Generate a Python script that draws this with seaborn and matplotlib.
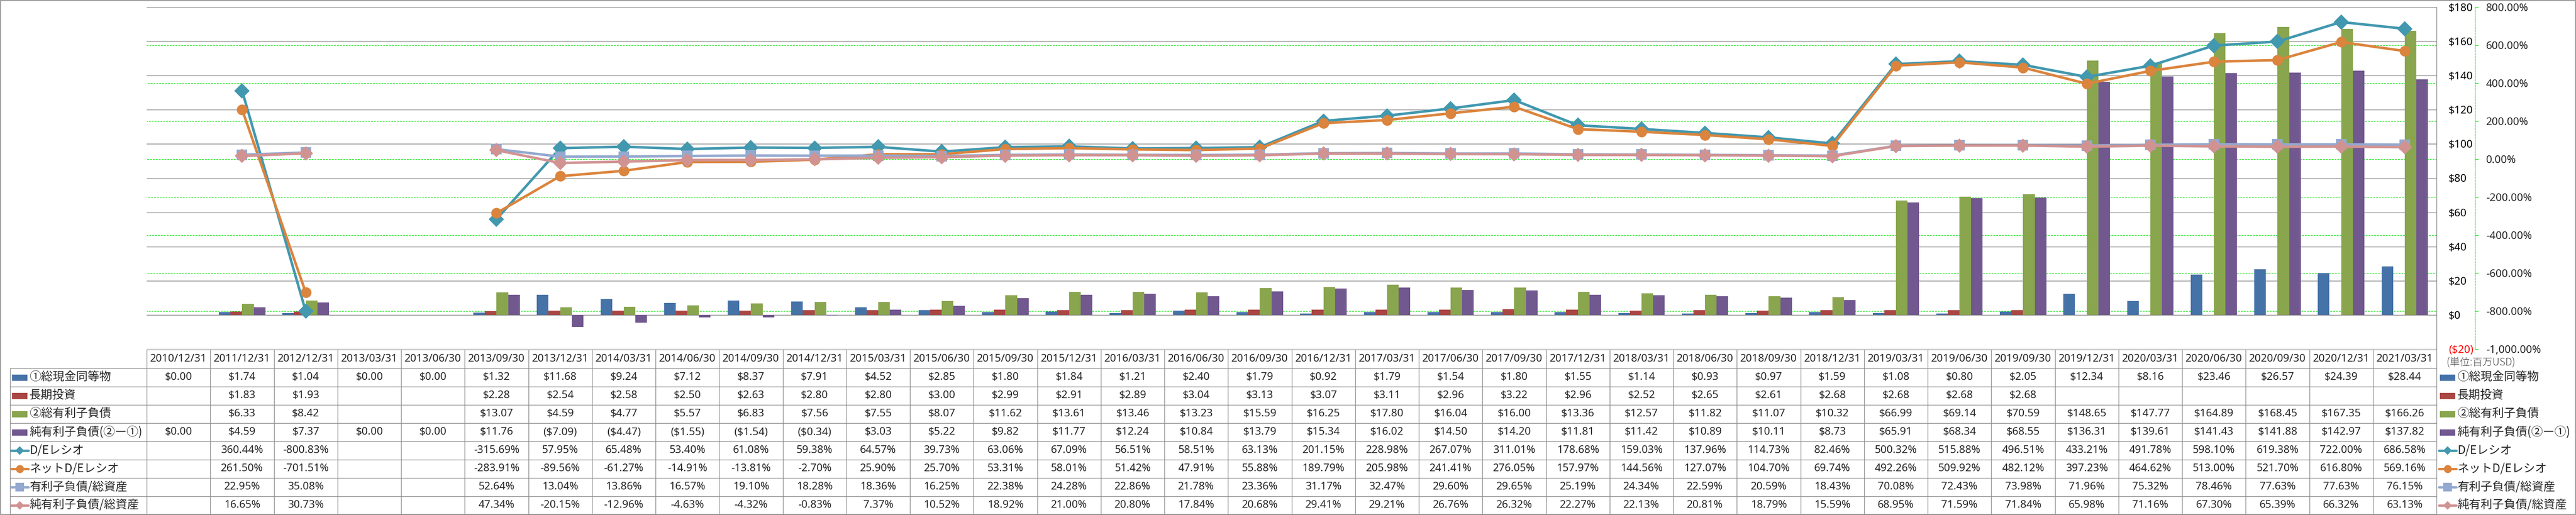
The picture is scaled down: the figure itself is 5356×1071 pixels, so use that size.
import numpy as np
import pandas as pd
import matplotlib
matplotlib.use("Agg")
import matplotlib.pyplot as plt
import seaborn as sns
from matplotlib.patches import Rectangle
from matplotlib.lines import Line2D
from matplotlib.ticker import FixedLocator, NullLocator

# ---------------- data ----------------
dates = ["2010/12/31", "2011/12/31", "2012/12/31", "2013/03/31", "2013/06/30", "2013/09/30",
         "2013/12/31", "2014/03/31", "2014/06/30", "2014/09/30", "2014/12/31", "2015/03/31",
         "2015/06/30", "2015/09/30", "2015/12/31", "2016/03/31", "2016/06/30", "2016/09/30",
         "2016/12/31", "2017/03/31", "2017/06/30", "2017/09/30", "2017/12/31", "2018/03/31",
         "2018/06/30", "2018/09/30", "2018/12/31", "2019/03/31", "2019/06/30", "2019/09/30",
         "2019/12/31", "2020/03/31", "2020/06/30", "2020/09/30", "2020/12/31", "2021/03/31"]

cash = [0.00, 1.74, 1.04, 0.00, 0.00, 1.32, 11.68, 9.24, 7.12, 8.37, 7.91, 4.52, 2.85, 1.80,
        1.84, 1.21, 2.40, 1.79, 0.92, 1.79, 1.54, 1.80, 1.55, 1.14, 0.93, 0.97, 1.59, 1.08,
        0.80, 2.05, 12.34, 8.16, 23.46, 26.57, 24.39, 28.44]
lt_invest = [None, 1.83, 1.93, None, None, 2.28, 2.54, 2.58, 2.50, 2.63, 2.80, 2.80, 3.00, 2.99,
             2.91, 2.89, 3.04, 3.13, 3.07, 3.11, 2.96, 3.22, 2.96, 2.52, 2.65, 2.61, 2.68, 2.68,
             2.68, 2.68, None, None, None, None, None, None]
debt = [None, 6.33, 8.42, None, None, 13.07, 4.59, 4.77, 5.57, 6.83, 7.56, 7.55, 8.07, 11.62,
        13.61, 13.46, 13.23, 15.59, 16.25, 17.80, 16.04, 16.00, 13.36, 12.57, 11.82, 11.07,
        10.32, 66.99, 69.14, 70.59, 148.65, 147.77, 164.89, 168.45, 167.35, 166.26]
net_debt = [0.00, 4.59, 7.37, 0.00, 0.00, 11.76, -7.09, -4.47, -1.55, -1.54, -0.34, 3.03, 5.22,
            9.82, 11.77, 12.24, 10.84, 13.79, 15.34, 16.02, 14.50, 14.20, 11.81, 11.42, 10.89,
            10.11, 8.73, 65.91, 68.34, 68.55, 136.31, 139.61, 141.43, 141.88, 142.97, 137.82]
de_ratio = [None, 360.44, -800.83, None, None, -315.69, 57.95, 65.48, 53.40, 61.08, 59.38,
            64.57, 39.73, 63.06, 67.09, 56.51, 58.51, 63.13, 201.15, 228.98, 267.07, 311.01,
            178.68, 159.03, 137.96, 114.73, 82.46, 500.32, 515.88, 496.51, 433.21, 491.78,
            598.10, 619.38, 722.00, 686.58]
net_de_ratio = [None, 261.50, -701.51, None, None, -283.91, -89.56, -61.27, -14.91, -13.81,
                -2.70, 25.90, 25.70, 53.31, 58.01, 51.42, 47.91, 55.88, 189.79, 205.98, 241.41,
                276.05, 157.97, 144.56, 127.07, 104.70, 69.74, 492.26, 509.92, 482.12, 397.23,
                464.62, 513.00, 521.70, 616.80, 569.16]
debt_assets = [None, 22.95, 35.08, None, None, 52.64, 13.04, 13.86, 16.57, 19.10, 18.28, 18.36,
               16.25, 22.38, 24.28, 22.86, 21.78, 23.36, 31.17, 32.47, 29.60, 29.65, 25.19,
               24.34, 22.59, 20.59, 18.43, 70.08, 72.43, 73.98, 71.96, 75.32, 78.46, 77.63,
               77.63, 76.15]
net_debt_assets = [None, 16.65, 30.73, None, None, 47.34, -20.15, -12.96, -4.63, -4.32, -0.83,
                   7.37, 10.52, 18.92, 21.00, 20.80, 17.84, 20.68, 29.41, 29.21, 26.76, 26.32,
                   22.27, 22.13, 20.81, 18.79, 15.59, 68.95, 71.59, 71.84, 65.98, 71.16, 67.30,
                   65.39, 66.32, 63.13]

bar_names = ["①総現金同等物", "長期投資", "②総有利子負債", "純有利子負債(②ー①)"]
line_names = ["D/Eレシオ", "ネットD/Eレシオ", "有利子負債/総資産", "純有利子負債/総資産"]
usd_ticks = [-20, 0, 20, 40, 60, 80, 100, 120, 140, 160, 180]
pct_ticks = [-1000, -800, -600, -400, -200, 0, 200, 400, 600, 800]
unit_label = "(単位:百万USD)"

# ---------------- styles ----------------
bar_colors = ["#4572A7", "#AA4643", "#89A54E", "#71588F"]
line_colors = ["#4198AF", "#DB843D", "#93A9CF", "#D19392"]
line_markers = ["D", "o", "s", "D"]
line_msize = [16, 16, 15.5, 15]
key_msize = [9, 12, 13, 9]
GREEN = "#00E000"
GRAY = "#868686"
DASH = (0, (3.6, 1.8))

sns.set_style("white")
plt.rcParams["font.family"] = ["Noto Sans", "Noto Sans CJK JP"]
plt.rcParams["axes.grid"] = False
CJK = ["Noto Sans CJK JP", "Noto Sans"]

W, H = 5356, 1071
fig = plt.figure(figsize=(W / 100, H / 100), dpi=100)
PL, PR, PT, PB = 305, 5066, 15, 726
rect = [PL / W, 1 - PB / H, (PR - PL) / W, (PB - PT) / H]
n = len(dates)

# green dashed grid (secondary scale) at the very back
ax_grid = fig.add_axes(rect)
ax_grid.set_xlim(-0.5, n - 0.5)
ax_grid.set_ylim(pct_ticks[0], pct_ticks[-1])
ax_grid.xaxis.set_major_locator(NullLocator())
ax_grid.yaxis.set_major_locator(NullLocator())
ax_grid.tick_params(left=False, labelleft=False, bottom=False, labelbottom=False)
for i, t in enumerate(pct_ticks):
    ax_grid.axhline(t, color=GREEN, lw=0.8, ls=((i * 2.1) % 5.4, (3.6, 1.8)))
for s in ax_grid.spines.values():
    s.set_visible(False)

# bars (primary USD scale)
ax_usd = fig.add_axes(rect)
ax_usd.patch.set_alpha(0)
series_vals = [cash, lt_invest, debt, net_debt]
rows = []
for name, vals in zip(bar_names, series_vals):
    for d, v in zip(dates, vals):
        if v is not None:
            rows.append({"date": d, "series": name, "value": v})
df = pd.DataFrame(rows)
sns.barplot(data=df, x="date", y="value", hue="series", order=dates, hue_order=bar_names,
            palette=dict(zip(bar_names, bar_colors)), width=0.73, saturation=1,
            errorbar=None, legend=False, linewidth=0, ax=ax_usd)

# ratio lines (secondary % scale)
ax_pct = ax_usd.twinx()
ax_pct.patch.set_alpha(0)
ratio_vals = [de_ratio, net_de_ratio, debt_assets, net_debt_assets]


def segments(vals):
    segs, cur = [], []
    for i, v in enumerate(vals):
        if v is None:
            if cur:
                segs.append(cur)
            cur = []
        else:
            cur.append(i)
    if cur:
        segs.append(cur)
    return segs


for k, vals in enumerate(ratio_vals):
    for seg in segments(vals):
        sns.lineplot(x=seg, y=[vals[i] for i in seg], ax=ax_pct, color=line_colors[k],
                     marker=line_markers[k], markersize=line_msize[k], markeredgewidth=0,
                     linewidth=3.8, zorder=3 + k)

# primary axis config (after twinx, which moves ticks to the left)
ax_usd.set_xlim(-0.5, n - 0.5)
ax_usd.set_ylim(usd_ticks[0], usd_ticks[-1])
ax_usd.yaxis.set_major_locator(FixedLocator(usd_ticks))
ax_usd.yaxis.tick_right()
ax_usd.set_yticklabels([("($%d)" % -v) if v < 0 else ("$%d" % v) for v in usd_ticks])
for t, v in zip(ax_usd.get_yticklabels(), usd_ticks):
    t.set_color("#FF0000" if v < 0 else "black")
ax_usd.tick_params(axis="y", left=False, labelleft=False, right=True, labelright=True,
                   length=0, pad=18, labelsize=16)
ax_usd.xaxis.set_major_locator(NullLocator())
ax_usd.tick_params(axis="x", bottom=False, labelbottom=False)
ax_usd.set_xlabel("")
ax_usd.set_ylabel("")
ax_usd.xaxis.grid(False)
ax_usd.yaxis.grid(True, color=GRAY, lw=1.0, ls="-")
ax_usd.set_axisbelow(True)
for k in ["left", "top", "bottom"]:
    ax_usd.spines[k].set_visible(False)
ax_usd.spines["right"].set_visible(True)
ax_usd.spines["right"].set_color(GRAY)
ax_usd.spines["right"].set_linewidth(1.0)

# secondary axis config
ax_pct.set_xlim(-0.5, n - 0.5)
ax_pct.set_ylim(pct_ticks[0], pct_ticks[-1])
ax_pct.yaxis.set_major_locator(FixedLocator(pct_ticks))
ax_pct.set_yticklabels(["{:,.2f}%".format(v) for v in pct_ticks])
for t, v in zip(ax_pct.get_yticklabels(), pct_ticks):
    t.set_color("#FF0000" if v < 0 else "black")
ax_pct.tick_params(axis="y", direction="out", length=5, width=0.8, color=GREEN, pad=11.5,
                   labelsize=16)
ax_pct.set_xlabel("")
ax_pct.set_ylabel("")
ax_pct.xaxis.grid(False)
ax_pct.yaxis.grid(False)
for k in ["left", "top", "bottom"]:
    ax_pct.spines[k].set_visible(False)
ax_pct.spines["right"].set_position(("outward", 57.6))
ax_pct.spines["right"].set_color(GREEN)
ax_pct.spines["right"].set_linestyle(DASH)
ax_pct.spines["right"].set_linewidth(0.8)

# ---------------- overlay: data table, legend, border ----------------
ov = fig.add_axes([0, 0, 1, 1])
ov.set_xlim(0, W)
ov.set_ylim(H, 0)
ov.axis("off")
ov.patch.set_alpha(0)

ov.add_patch(Rectangle((0.7, 0.7), W - 1.4, H - 1.4, fill=False, ec="#8a8a8a", lw=1.2))

TL = 21
TY0, HDR, RH = 727, 39, 38
cw = (PR - PL) / n
col_x = [PL + i * cw for i in range(n + 1)]
row_top = [TY0 + HDR + i * RH for i in range(9)]
LC = "#8c8c8c"
ov.plot([PL, PR], [TY0, TY0], color=LC, lw=1.0)
for y in row_top:
    ov.plot([TL, PR], [y, y], color=LC, lw=1.0)
ov.plot([TL, TL], [row_top[0], row_top[-1]], color=LC, lw=1.0)
for x in col_x:
    ov.plot([x, x], [TY0, row_top[-1]], color=LC, lw=1.0)

for i, d in enumerate(dates):
    ov.text(col_x[i] + cw / 2, TY0 + HDR / 2, d, ha="center", va="center", fontsize=16)


def fmt_usd(v):
    if v is None:
        return ""
    return "(${:.2f})".format(-v) if v < 0 else "${:.2f}".format(v)


def fmt_pct(v):
    return "" if v is None else "{:.2f}%".format(v)


table_rows = [[fmt_usd(v) for v in s] for s in series_vals] + \
             [[fmt_pct(v) for v in s] for s in ratio_vals]


def draw_key(x, yc, k):
    if k < 4:
        ov.add_patch(Rectangle((x, yc - 6.5), 32, 13, color=bar_colors[k], lw=0))
    else:
        j = k - 4
        ov.add_line(Line2D([x - 2, x + 34], [yc, yc], color=line_colors[j], lw=3.5,
                           solid_capstyle="round"))
        ov.add_line(Line2D([x + 16], [yc], color=line_colors[j], marker=line_markers[j],
                           markersize=key_msize[j], markeredgewidth=0, lw=0))


all_names = bar_names + line_names
for r in range(8):
    yc = row_top[r] + RH / 2
    draw_key(TL + 4, yc, r)
    ov.text(TL + 40, yc, all_names[r], ha="left", va="center", fontsize=17.5, family=CJK)
    for i, t in enumerate(table_rows[r]):
        if t:
            ov.text(col_x[i] + cw / 2, yc, t, ha="center", va="center", fontsize=16)
    # right-side legend
    draw_key(5073, yc, r)
    ov.text(5109, yc, all_names[r], ha="left", va="center", fontsize=17.5, family=CJK)

ov.text(5087, 755, unit_label, ha="left", va="center", fontsize=15, family=CJK,
        color="#404040", fontweight="light")

fig.savefig("out.png", dpi=100)
